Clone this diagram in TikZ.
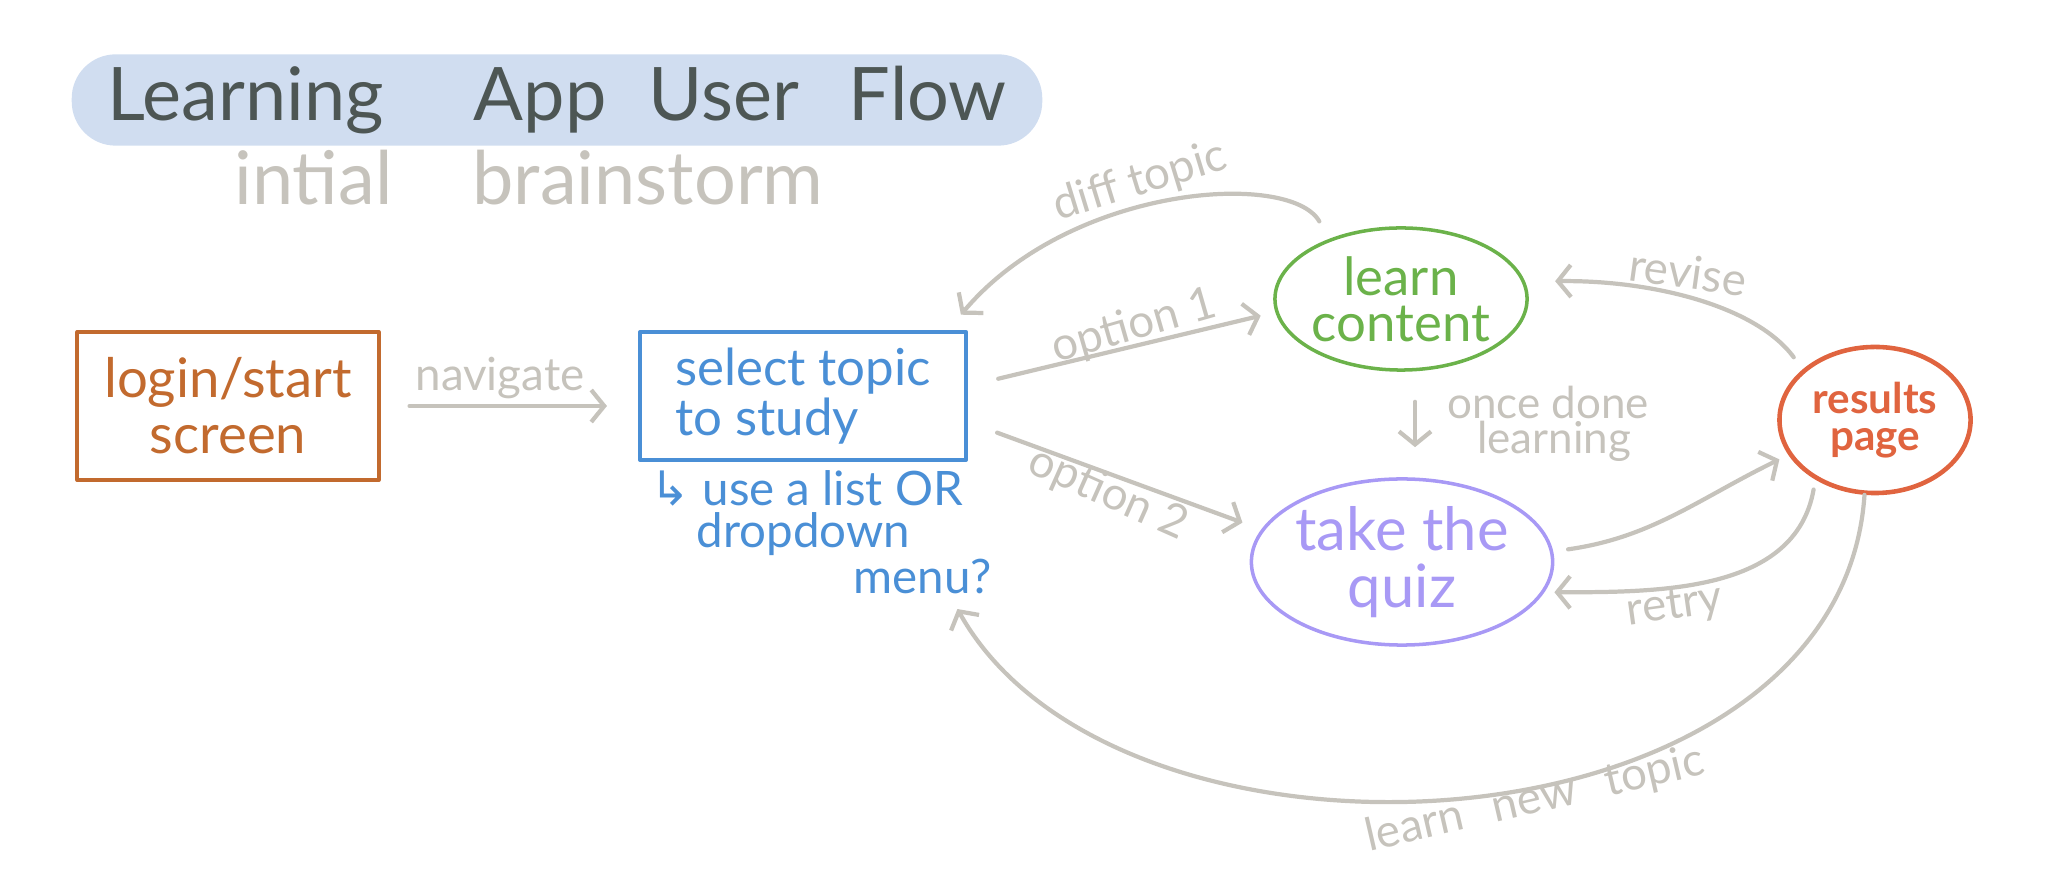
\documentclass[tikz,border=0pt]{standalone}
\usepackage{fontspec}
\setmainfont{Lato}
\newfontfamily\symfont{DejaVu Sans}
\usetikzlibrary{arrows.meta,shapes.geometric}
\definecolor{pill}{HTML}{D0DDF0}
\definecolor{ink}{HTML}{4D5654}
\definecolor{pencil}{HTML}{C6C3BC}
\definecolor{rust}{HTML}{C26A2E}
\definecolor{sky}{HTML}{4A8FD6}
\definecolor{leaf}{HTML}{6BB24A}
\definecolor{lilac}{HTML}{A899F5}
\definecolor{coral}{HTML}{E0643F}
\begin{document}
\begin{tikzpicture}[x=0.01cm, y=-0.01cm, line cap=round, line join=round,
	>={Straight Barb[length=1.3mm,width=3.2mm]},
	screen/.style={draw, line width=1.1pt, inner sep=0pt},
	bubble/.style={ellipse, draw, line width=1pt, inner sep=0pt, align=center},
	flow/.style={->, draw=pencil, line width=1.2pt},
	tag/.style={text=pencil, font=\fontsize{13}{13}\selectfont, inner sep=1pt}]
	\useasboundingbox (0,0) rectangle (2049,877);
	% heading
	\node[fill=pill, rounded corners=0.44cm, minimum width=9.7cm, minimum height=0.89cm,
		text=ink, font=\fontsize{21}{24}\selectfont] (title) at (557,100)
		{Learning\hspace{0.9cm}App\hspace{0.42cm}User\hspace{0.5cm}Flow};
	\node[text=pencil, font=\fontsize{21}{24}\selectfont] (sub) at (529,178) {intial\hspace{0.8cm}brainstorm};
	% screens
	\node[screen, draw=rust, text=rust, minimum width=3.01cm, minimum height=1.48cm, align=center,
		font=\fontsize{15.5}{16}\selectfont] (login) at (228,406) {login/start\\screen};
	\node[screen, draw=sky, text=sky, minimum width=3.26cm, minimum height=1.28cm, align=left,
		font=\fontsize{14.5}{14}\selectfont] (select) at (803,396) {select topic\\to study};
	\node[text=sky, align=left, anchor=north west, inner sep=0pt,
		font=\fontsize{13.5}{12}\selectfont] (note) at (650,470)
		{{\symfont ↳} use a list OR\\\hspace*{0.46cm}dropdown\\\hspace*{2.03cm}menu?};
	\node[bubble, draw=leaf, text=leaf, minimum width=2.41cm, minimum height=1.42cm,
		font=\fontsize{15}{13}\selectfont] (learn) at (1401,299) {learn\\content};
	\node[bubble, draw=lilac, text=lilac, minimum width=2.95cm, minimum height=1.66cm,
		font=\fontsize{17}{16}\selectfont] (quiz) at (1402,562) {take the\\quiz};
	\node[bubble, draw=coral, text=coral, line width=1.3pt, minimum width=1.91cm, minimum height=1.46cm,
		font=\bfseries\fontsize{12}{10.5}\selectfont] (results) at (1875,420) {results\\page};
	% connectors
	\draw[flow, shorten <=0.29cm, shorten >=0.31cm] (login.east) -- (login.east -| select.west);
	\draw[flow, shorten <=0.31cm, shorten >=0.15cm] ([yshift=1mm]select.east) -- (learn.186);
	\draw[flow, shorten <=0.31cm, shorten >=0.2cm] ([yshift=-2.6mm]select.east) -- (quiz.167);
	\draw[flow, shorten <=0.2cm, shorten >=0.2cm] (learn.140) .. controls (1290,170) and (1070,185) .. ([xshift=-0.2cm]select.north east);
	\draw[flow, shorten <=0.15cm, shorten >=0.3cm] (results.145) .. controls (1755,305) and (1650,280) .. (learn.8);
	\draw[flow, shorten <=0.3cm, shorten >=0.3cm] ([xshift=1.4mm]learn.south) -- ([xshift=1.4mm]learn.south |- quiz.north);
	\draw[flow, shorten <=0.15cm, shorten >=0.1cm] (quiz.4) to[out=8, in=206] (results.202);
	\draw[flow, shorten <=0.1cm, shorten >=0.1cm] (results.225) to[out=-100, in=0] (quiz.348);
	\draw[flow] (results.262) .. controls (1840,860) and (1120,900) .. ([xshift=-0.35cm,yshift=-0.14cm]note.south east);
	% labels
	\node[tag] (navlab) at (500,378) {navigate};
	\node[tag, rotate=16] (opt1) at (1134,327) {option 1};
	\node[tag, rotate=-24] (opt2) at (1108,494) {option 2};
	\node[tag, rotate=17] (difflab) at (1140,182) {diff topic};
	\node[tag, rotate=-8] (revlab) at (1688,272) {revise};
	\node[tag, align=left, font=\fontsize{12.5}{10}\selectfont] (donelab) at (1548,424) {once done\\\hspace*{0.3cm}learning};
	\node[tag, rotate=8] (retrylab) at (1675,607) {retry};
	\node[tag, rotate=13] (newlab) at (1535,800) {learn\hspace{0.3cm}new\hspace{0.3cm}topic};
\end{tikzpicture}
\end{document}
